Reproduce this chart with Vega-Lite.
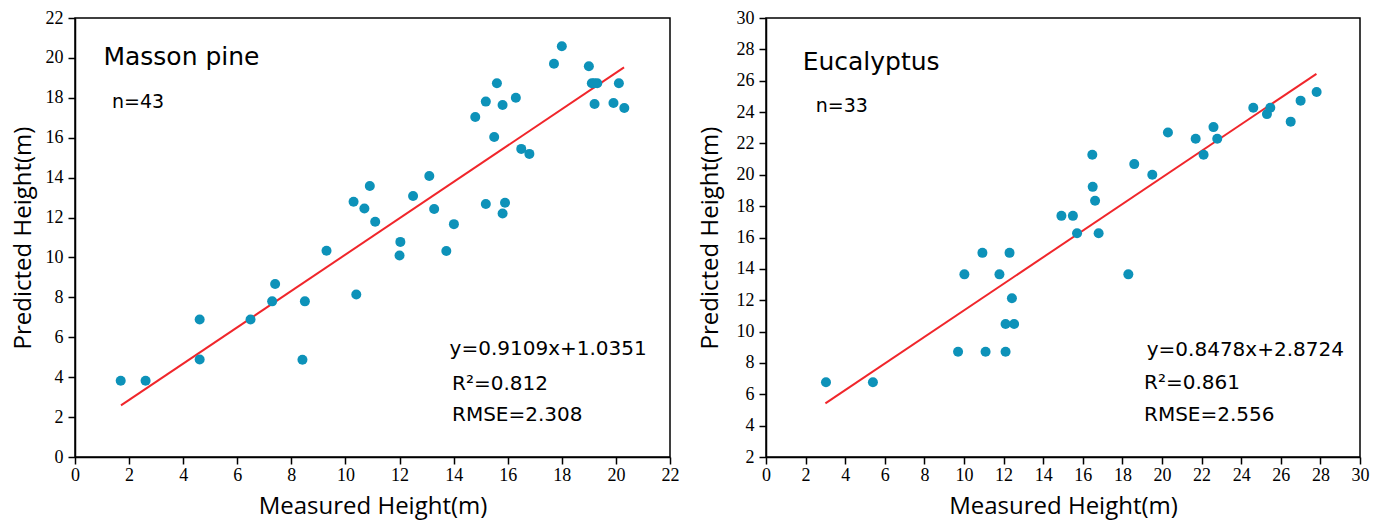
{
  "$schema": "https://vega.github.io/schema/vega-lite/v6.json",
  "padding": {"left": 10, "top": 8, "right": 5, "bottom": 5},
  "background": "white",
  "spacing": 17,
  "datasets": {
    "pine": [
      {"mh": 1.69, "ph": 3.82}, {"mh": 2.61, "ph": 3.82}, {"mh": 4.61, "ph": 6.89}, {"mh": 4.61, "ph": 4.89},
      {"mh": 6.49, "ph": 6.89}, {"mh": 7.29, "ph": 7.8}, {"mh": 7.4, "ph": 8.67}, {"mh": 8.5, "ph": 7.8},
      {"mh": 8.41, "ph": 4.87}, {"mh": 9.3, "ph": 10.34}, {"mh": 10.4, "ph": 8.14}, {"mh": 10.3, "ph": 12.79},
      {"mh": 10.7, "ph": 12.45}, {"mh": 10.9, "ph": 13.58}, {"mh": 11.1, "ph": 11.79}, {"mh": 12.03, "ph": 10.78},
      {"mh": 12.0, "ph": 10.1}, {"mh": 12.5, "ph": 13.08}, {"mh": 13.1, "ph": 14.08}, {"mh": 13.28, "ph": 12.43},
      {"mh": 13.73, "ph": 10.32}, {"mh": 14.01, "ph": 11.67}, {"mh": 14.8, "ph": 17.04}, {"mh": 15.19, "ph": 17.81},
      {"mh": 15.6, "ph": 18.73}, {"mh": 15.81, "ph": 17.64}, {"mh": 15.5, "ph": 16.04}, {"mh": 16.3, "ph": 18.0},
      {"mh": 16.5, "ph": 15.44}, {"mh": 16.8, "ph": 15.19}, {"mh": 15.19, "ph": 12.68}, {"mh": 15.9, "ph": 12.74},
      {"mh": 15.81, "ph": 12.2}, {"mh": 17.71, "ph": 19.71}, {"mh": 18.0, "ph": 20.58}, {"mh": 19.0, "ph": 19.58},
      {"mh": 19.11, "ph": 18.73}, {"mh": 19.31, "ph": 18.73}, {"mh": 19.21, "ph": 17.69}, {"mh": 19.91, "ph": 17.74},
      {"mh": 20.11, "ph": 18.73}, {"mh": 20.31, "ph": 17.49}, {"mh": 19.2, "ph": 18.73}
    ],
    "pineFit": [{"mh": 1.7, "ph": 2.584}, {"mh": 20.3, "ph": 19.526}],
    "euc": [
      {"mh": 3.03, "ph": 6.77}, {"mh": 5.4, "ph": 6.77}, {"mh": 9.7, "ph": 8.71}, {"mh": 11.09, "ph": 8.71},
      {"mh": 12.1, "ph": 8.71}, {"mh": 10.02, "ph": 13.65}, {"mh": 10.93, "ph": 15.02}, {"mh": 11.79, "ph": 13.65},
      {"mh": 12.3, "ph": 15.02}, {"mh": 12.42, "ph": 12.12}, {"mh": 12.1, "ph": 10.48}, {"mh": 12.53, "ph": 10.48},
      {"mh": 14.92, "ph": 17.38}, {"mh": 15.5, "ph": 17.38}, {"mh": 15.71, "ph": 16.27}, {"mh": 16.8, "ph": 16.27},
      {"mh": 16.48, "ph": 21.28}, {"mh": 16.5, "ph": 19.23}, {"mh": 16.62, "ph": 18.34}, {"mh": 18.6, "ph": 20.68},
      {"mh": 19.51, "ph": 20.0}, {"mh": 20.3, "ph": 22.7}, {"mh": 21.7, "ph": 22.3}, {"mh": 22.1, "ph": 21.28},
      {"mh": 22.6, "ph": 23.04}, {"mh": 22.79, "ph": 22.3}, {"mh": 24.61, "ph": 24.28}, {"mh": 25.3, "ph": 23.87},
      {"mh": 25.47, "ph": 24.28}, {"mh": 26.5, "ph": 23.39}, {"mh": 27.0, "ph": 24.73}, {"mh": 27.81, "ph": 25.28},
      {"mh": 18.3, "ph": 13.65}
    ],
    "eucFit": [{"mh": 3.0, "ph": 5.416}, {"mh": 27.8, "ph": 26.441}],
    "one": [{"k": 1}]
  },
  "hconcat": [
    {
      "width": 595,
      "height": 439,
      "layer": [
        {"data": {"name": "pineFit"}, "mark": {"type": "line", "color": "#F0262B", "strokeWidth": 2},
         "encoding": {
           "x": {"field": "mh", "type": "quantitative", "scale": {"domain": [0, 22], "nice": false, "zero": false},
                 "axis": {"title": "Measured Height(m)", "values": [0, 2, 4, 6, 8, 10, 12, 14, 16, 18, 20, 22]}},
           "y": {"field": "ph", "type": "quantitative", "scale": {"domain": [0, 22], "nice": false, "zero": false},
                 "axis": {"title": "Predicted Height(m)", "values": [0, 2, 4, 6, 8, 10, 12, 14, 16, 18, 20, 22]}}
         }},
        {"data": {"name": "pine"}, "mark": {"type": "circle", "color": "#0D92B9", "opacity": 1, "size": 100},
         "encoding": {
           "x": {"field": "mh", "type": "quantitative", "scale": {"domain": [0, 22], "nice": false, "zero": false},
                 "axis": {"title": "Measured Height(m)", "values": [0, 2, 4, 6, 8, 10, 12, 14, 16, 18, 20, 22]}},
           "y": {"field": "ph", "type": "quantitative", "scale": {"domain": [0, 22], "nice": false, "zero": false},
                 "axis": {"title": "Predicted Height(m)", "values": [0, 2, 4, 6, 8, 10, 12, 14, 16, 18, 20, 22]}}
         }},
        {"data": {"name": "one"}, "mark": {"type": "text", "text": "Masson pine", "font": "DejaVu Sans", "fontSize": 25, "align": "left", "baseline": "alphabetic", "color": "black"},
         "encoding": {
           "x": {"datum": 1.05, "type": "quantitative", "scale": {"domain": [0, 22], "nice": false, "zero": false},
                 "axis": {"title": "Measured Height(m)", "values": [0, 2, 4, 6, 8, 10, 12, 14, 16, 18, 20, 22]}},
           "y": {"datum": 19.65, "type": "quantitative", "scale": {"domain": [0, 22], "nice": false, "zero": false},
                 "axis": {"title": "Predicted Height(m)", "values": [0, 2, 4, 6, 8, 10, 12, 14, 16, 18, 20, 22]}}
         }},
        {"data": {"name": "one"}, "mark": {"type": "text", "text": "n=43", "font": "DejaVu Sans", "fontSize": 19, "align": "left", "baseline": "alphabetic", "color": "black"},
         "encoding": {
           "x": {"datum": 1.37, "type": "quantitative", "scale": {"domain": [0, 22], "nice": false, "zero": false},
                 "axis": {"title": "Measured Height(m)", "values": [0, 2, 4, 6, 8, 10, 12, 14, 16, 18, 20, 22]}},
           "y": {"datum": 17.48, "type": "quantitative", "scale": {"domain": [0, 22], "nice": false, "zero": false},
                 "axis": {"title": "Predicted Height(m)", "values": [0, 2, 4, 6, 8, 10, 12, 14, 16, 18, 20, 22]}}
         }},
        {"data": {"name": "one"}, "mark": {"type": "text", "text": "y=0.9109x+1.0351", "font": "DejaVu Sans", "fontSize": 20, "align": "left", "baseline": "alphabetic", "color": "black"},
         "encoding": {
           "x": {"datum": 13.85, "type": "quantitative", "scale": {"domain": [0, 22], "nice": false, "zero": false},
                 "axis": {"title": "Measured Height(m)", "values": [0, 2, 4, 6, 8, 10, 12, 14, 16, 18, 20, 22]}},
           "y": {"datum": 5.12, "type": "quantitative", "scale": {"domain": [0, 22], "nice": false, "zero": false},
                 "axis": {"title": "Predicted Height(m)", "values": [0, 2, 4, 6, 8, 10, 12, 14, 16, 18, 20, 22]}}
         }},
        {"data": {"name": "one"}, "mark": {"type": "text", "text": "R²=0.812", "font": "DejaVu Sans", "fontSize": 20, "align": "left", "baseline": "alphabetic", "color": "black"},
         "encoding": {
           "x": {"datum": 13.94, "type": "quantitative", "scale": {"domain": [0, 22], "nice": false, "zero": false},
                 "axis": {"title": "Measured Height(m)", "values": [0, 2, 4, 6, 8, 10, 12, 14, 16, 18, 20, 22]}},
           "y": {"datum": 3.37, "type": "quantitative", "scale": {"domain": [0, 22], "nice": false, "zero": false},
                 "axis": {"title": "Predicted Height(m)", "values": [0, 2, 4, 6, 8, 10, 12, 14, 16, 18, 20, 22]}}
         }},
        {"data": {"name": "one"}, "mark": {"type": "text", "text": "RMSE=2.308", "font": "DejaVu Sans", "fontSize": 20, "align": "left", "baseline": "alphabetic", "color": "black"},
         "encoding": {
           "x": {"datum": 13.94, "type": "quantitative", "scale": {"domain": [0, 22], "nice": false, "zero": false},
                 "axis": {"title": "Measured Height(m)", "values": [0, 2, 4, 6, 8, 10, 12, 14, 16, 18, 20, 22]}},
           "y": {"datum": 1.79, "type": "quantitative", "scale": {"domain": [0, 22], "nice": false, "zero": false},
                 "axis": {"title": "Predicted Height(m)", "values": [0, 2, 4, 6, 8, 10, 12, 14, 16, 18, 20, 22]}}
         }}
      ]
    },
    {
      "width": 594,
      "height": 439,
      "layer": [
        {"data": {"name": "eucFit"}, "mark": {"type": "line", "color": "#F0262B", "strokeWidth": 2},
         "encoding": {
           "x": {"field": "mh", "type": "quantitative", "scale": {"domain": [0, 30], "nice": false, "zero": false},
                 "axis": {"title": "Measured Height(m)", "values": [0, 2, 4, 6, 8, 10, 12, 14, 16, 18, 20, 22, 24, 26, 28, 30]}},
           "y": {"field": "ph", "type": "quantitative", "scale": {"domain": [2, 30], "nice": false, "zero": false},
                 "axis": {"title": "Predicted Height(m)", "values": [2, 4, 6, 8, 10, 12, 14, 16, 18, 20, 22, 24, 26, 28, 30], "titlePadding": 14}}
         }},
        {"data": {"name": "euc"}, "mark": {"type": "circle", "color": "#0D92B9", "opacity": 1, "size": 100},
         "encoding": {
           "x": {"field": "mh", "type": "quantitative", "scale": {"domain": [0, 30], "nice": false, "zero": false},
                 "axis": {"title": "Measured Height(m)", "values": [0, 2, 4, 6, 8, 10, 12, 14, 16, 18, 20, 22, 24, 26, 28, 30]}},
           "y": {"field": "ph", "type": "quantitative", "scale": {"domain": [2, 30], "nice": false, "zero": false},
                 "axis": {"title": "Predicted Height(m)", "values": [2, 4, 6, 8, 10, 12, 14, 16, 18, 20, 22, 24, 26, 28, 30], "titlePadding": 14}}
         }},
        {"data": {"name": "one"}, "mark": {"type": "text", "text": "Eucalyptus", "font": "DejaVu Sans", "fontSize": 25, "align": "left", "baseline": "alphabetic", "color": "black"},
         "encoding": {
           "x": {"datum": 1.85, "type": "quantitative", "scale": {"domain": [0, 30], "nice": false, "zero": false},
                 "axis": {"title": "Measured Height(m)", "values": [0, 2, 4, 6, 8, 10, 12, 14, 16, 18, 20, 22, 24, 26, 28, 30]}},
           "y": {"datum": 26.71, "type": "quantitative", "scale": {"domain": [2, 30], "nice": false, "zero": false},
                 "axis": {"title": "Predicted Height(m)", "values": [2, 4, 6, 8, 10, 12, 14, 16, 18, 20, 22, 24, 26, 28, 30], "titlePadding": 14}}
         }},
        {"data": {"name": "one"}, "mark": {"type": "text", "text": "n=33", "font": "DejaVu Sans", "fontSize": 19, "align": "left", "baseline": "alphabetic", "color": "black"},
         "encoding": {
           "x": {"datum": 2.51, "type": "quantitative", "scale": {"domain": [0, 30], "nice": false, "zero": false},
                 "axis": {"title": "Measured Height(m)", "values": [0, 2, 4, 6, 8, 10, 12, 14, 16, 18, 20, 22, 24, 26, 28, 30]}},
           "y": {"datum": 24.0, "type": "quantitative", "scale": {"domain": [2, 30], "nice": false, "zero": false},
                 "axis": {"title": "Predicted Height(m)", "values": [2, 4, 6, 8, 10, 12, 14, 16, 18, 20, 22, 24, 26, 28, 30], "titlePadding": 14}}
         }},
        {"data": {"name": "one"}, "mark": {"type": "text", "text": "y=0.8478x+2.8724", "font": "DejaVu Sans", "fontSize": 20, "align": "left", "baseline": "alphabetic", "color": "black"},
         "encoding": {
           "x": {"datum": 19.23, "type": "quantitative", "scale": {"domain": [0, 30], "nice": false, "zero": false},
                 "axis": {"title": "Measured Height(m)", "values": [0, 2, 4, 6, 8, 10, 12, 14, 16, 18, 20, 22, 24, 26, 28, 30]}},
           "y": {"datum": 8.45, "type": "quantitative", "scale": {"domain": [2, 30], "nice": false, "zero": false},
                 "axis": {"title": "Predicted Height(m)", "values": [2, 4, 6, 8, 10, 12, 14, 16, 18, 20, 22, 24, 26, 28, 30], "titlePadding": 14}}
         }},
        {"data": {"name": "one"}, "mark": {"type": "text", "text": "R²=0.861", "font": "DejaVu Sans", "fontSize": 20, "align": "left", "baseline": "alphabetic", "color": "black"},
         "encoding": {
           "x": {"datum": 19.09, "type": "quantitative", "scale": {"domain": [0, 30], "nice": false, "zero": false},
                 "axis": {"title": "Measured Height(m)", "values": [0, 2, 4, 6, 8, 10, 12, 14, 16, 18, 20, 22, 24, 26, 28, 30]}},
           "y": {"datum": 6.33, "type": "quantitative", "scale": {"domain": [2, 30], "nice": false, "zero": false},
                 "axis": {"title": "Predicted Height(m)", "values": [2, 4, 6, 8, 10, 12, 14, 16, 18, 20, 22, 24, 26, 28, 30], "titlePadding": 14}}
         }},
        {"data": {"name": "one"}, "mark": {"type": "text", "text": "RMSE=2.556", "font": "DejaVu Sans", "fontSize": 20, "align": "left", "baseline": "alphabetic", "color": "black"},
         "encoding": {
           "x": {"datum": 19.09, "type": "quantitative", "scale": {"domain": [0, 30], "nice": false, "zero": false},
                 "axis": {"title": "Measured Height(m)", "values": [0, 2, 4, 6, 8, 10, 12, 14, 16, 18, 20, 22, 24, 26, 28, 30]}},
           "y": {"datum": 4.3, "type": "quantitative", "scale": {"domain": [2, 30], "nice": false, "zero": false},
                 "axis": {"title": "Predicted Height(m)", "values": [2, 4, 6, 8, 10, 12, 14, 16, 18, 20, 22, 24, 26, 28, 30], "titlePadding": 14}}
         }}
      ]
    }
  ],
  "config": {
    "view": {"stroke": "black", "strokeWidth": 1.5},
    "axis": {
      "grid": false,
      "domainColor": "black",
      "domainWidth": 1.5,
      "tickColor": "black",
      "tickWidth": 1.5,
      "tickSize": 7,
      "labelFont": "Liberation Serif",
      "labelFontSize": 18,
      "labelColor": "black",
      "labelFlush": false,
      "labelOverlap": false,
      "titleFont": "Open Sans",
      "titleFontSize": 24,
      "titleFontWeight": "normal",
      "titleColor": "black"
    },
    "axisX": {"labelPadding": 2, "titlePadding": 10},
    "axisY": {"labelPadding": 5, "titlePadding": 10}
  }
}
